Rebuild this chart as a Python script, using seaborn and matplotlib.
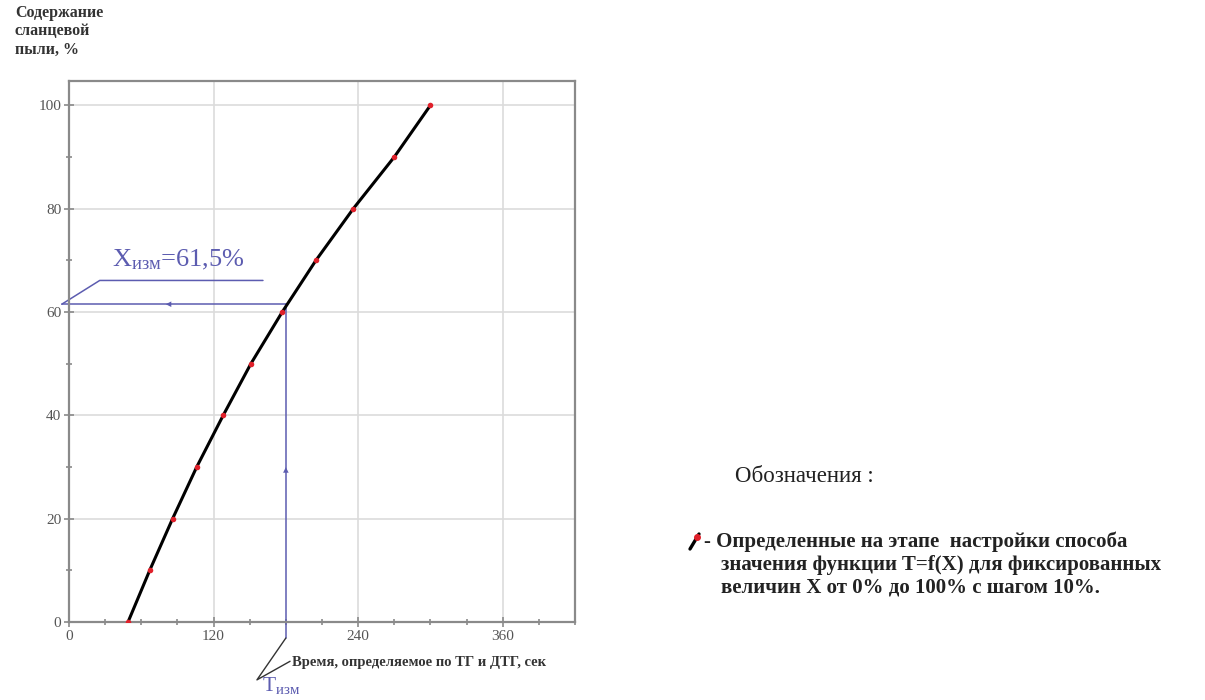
import matplotlib
matplotlib.use("Agg")
import matplotlib.pyplot as plt
import seaborn as sns
import numpy as np
from matplotlib.ticker import MultipleLocator

# ---- data ----
X_percent = [0, 10, 20, 30, 40, 50, 60, 70, 80, 90, 100]
T_seconds = [49, 67, 86, 106, 128, 151, 177, 205, 236, 270, 300]
T_meas = 180
X_meas = 61.5
x_ticks = [0, 120, 240, 360]
y_ticks = [0, 20, 40, 60, 80, 100]

sns.set_theme(style="white")
plt.rcParams['font.family'] = ['Liberation Serif', 'DejaVu Serif']
plt.rcParams['mathtext.fontset'] = 'custom'
plt.rcParams['mathtext.rm'] = 'Liberation Serif'
plt.rcParams['mathtext.it'] = 'Liberation Serif'

fig = plt.figure(figsize=(12.05, 7.0), dpi=100)
ax = fig.add_axes([69/1205, 1-622/700, (575-69)/1205, (622-81)/700])

blue = '#5c5cb0'
gray = '#8a8a8a'

# grid
ax.set_xlim(0, 420)
ax.set_ylim(0, 104.7)
ax.set_xticks(x_ticks)
ax.set_yticks(y_ticks)
ax.xaxis.set_minor_locator(MultipleLocator(30))
ax.yaxis.set_minor_locator(MultipleLocator(10))
ax.grid(True, which='major', color='#dcdcdc', lw=1.2)
ax.set_axisbelow(True)
for s in ax.spines.values():
    s.set_color(gray)
    s.set_linewidth(1.6)
ax.tick_params(which='both', direction='inout', color=gray, width=1.2,
               labelsize=11, labelcolor='#555555',
               bottom=True, left=True, top=False, right=False)
ax.tick_params(which='major', length=7, pad=2)
ax.tick_params(which='minor', length=5)

# measurement lines
ax.plot([T_meas, -6], [X_meas, X_meas], color=blue, lw=1.1, clip_on=False, zorder=2)
ax.plot([T_meas, T_meas], [X_meas, -3.1], color=blue, lw=1.1, clip_on=False, zorder=2)
ax.annotate('', xy=(78, X_meas), xytext=(92, X_meas),
            arrowprops=dict(arrowstyle='-|>', color=blue, lw=0, mutation_scale=10))
ax.annotate('', xy=(T_meas, 30.5), xytext=(T_meas, 26),
            arrowprops=dict(arrowstyle='-|>', color=blue, lw=0, mutation_scale=10))
# leader for X label
ax.plot([-6, 25.5, 161], [X_meas, 66.1, 66.1], color=blue, lw=1.1, clip_on=False)
ax.text(36, 67.8, r'X$_{\mathrm{изм}}$=61,5%', color=blue, fontsize=19,
        ha='left', va='bottom')
# leader for T label
ax.plot([T_meas, 156, 183.5], [-3.1, -11.2, -7.6], color='#333333', lw=1.0, clip_on=False)
ax.text(185, -7.9, 'Время, определяемое по ТГ и ДТГ, сек', fontsize=10.5,
        fontweight='bold', color='#333333', ha='left', va='center')
ax.text(160, -13.3, r'T$_{\mathrm{изм}}$', color=blue, fontsize=15.5,
        ha='left', va='baseline')

# curve and points
sns.lineplot(x=T_seconds, y=X_percent, ax=ax, color='black', lw=2.2, zorder=3)
ax.scatter(T_seconds, X_percent, s=16, color='#e0202a', zorder=4, lw=0)

# y label
fig.text(15/1205, 1-5/700, 'Содержание\nсланцевой\nпыли, %', fontsize=11.5,
         fontweight='bold', color='#333333', ha='left', va='top', linespacing=1.2)

# legend area
fig.text(735/1205, 1-476/700, 'Обозначения :', fontsize=16.5, color='#222222',
         ha='left', va='center')
fig.add_artist(plt.Line2D([690/1205, 699/1205], [1-549/700, 1-534/700],
                          color='black', lw=2.4))
fig.add_artist(plt.Line2D([697/1205], [1-537/700], marker='o', ms=4,
                          color='#e0202a', lw=0))
fig.text(704/1205, 1-542/700, '- Определенные на этапе  настройки способа',
         fontsize=15, fontweight='bold', color='#222222', ha='left', va='center')
fig.text(721/1205, 1-565/700, 'значения функции T=f(X) для фиксированных',
         fontsize=15, fontweight='bold', color='#222222', ha='left', va='center')
fig.text(721/1205, 1-588/700, 'величин X от 0% до 100% с шагом 10%.',
         fontsize=15, fontweight='bold', color='#222222', ha='left', va='center')

fig.savefig('out.png', dpi=100)
